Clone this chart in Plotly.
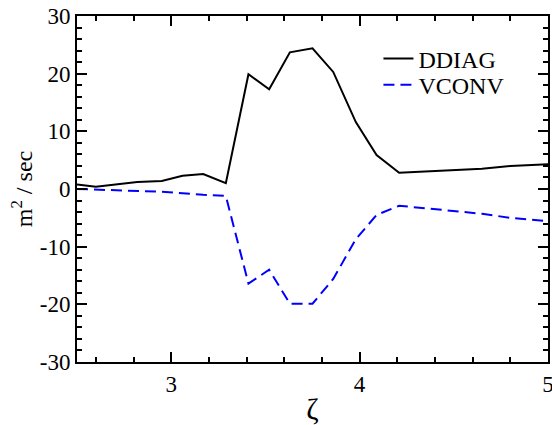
import plotly.graph_objects as go

zeta_ddiag = [2.5, 2.6, 2.82, 2.95, 3.06, 3.17, 3.29, 3.41, 3.52, 3.63, 3.75, 3.86, 3.98, 4.09, 4.21, 4.65, 4.8, 5.0]
ddiag = [0.8, 0.4, 1.2, 1.4, 2.3, 2.6, 1.0, 19.9, 17.3, 23.7, 24.4, 20.3, 11.6, 5.9, 2.8, 3.5, 4.0, 4.3]

zeta_vconv = [2.5, 2.6, 2.97, 3.17, 3.29, 3.41, 3.52, 3.63, 3.75, 3.86, 3.98, 4.09, 4.21, 4.65, 4.8, 5.0]
vconv = [0.0, -0.1, -0.5, -1.0, -1.2, -16.4, -14.0, -19.9, -19.9, -15.6, -8.7, -4.5, -2.9, -4.3, -5.0, -5.6]

x_ticks = [3, 4, 5]
x_labels = ["3", "4", "5"]
y_ticks = [-30, -20, -10, 0, 10, 20, 30]
y_labels = ["-30", "-20", "-10", "0", "10", "20", "30"]

font = "Liberation Serif"

fig = go.Figure()
fig.add_trace(go.Scatter(x=zeta_ddiag, y=ddiag, mode="lines", name="DDIAG",
                         line=dict(color="black", width=2), legend="legend", showlegend=True))
fig.add_trace(go.Scatter(x=zeta_vconv, y=vconv, mode="lines", name="VCONV",
                         line=dict(color="blue", width=2, dash="11px,6px"), legend="legend2", showlegend=True))

def axis_common():
    return dict(showline=True, linecolor="black", linewidth=2, mirror="allticks",
                ticks="inside", ticklen=10, tickwidth=2, tickcolor="black",
                showgrid=False, zeroline=False, automargin=False,
                ticklabeloverflow="allow",
                tickfont=dict(family=font, size=23, color="black"))

fig.update_xaxes(range=[2.5, 5], tickmode="array", tickvals=x_ticks, ticktext=x_labels,
                 minor=dict(tickmode="linear", dtick=0.2, tick0=2.6, ticks="inside",
                            ticklen=5, tickwidth=2, tickcolor="black", showgrid=False),
                 title=dict(text="ζ", font=dict(family=font, size=30, color="black"), standoff=2),
                 **axis_common())
fig.update_yaxes(range=[-30, 30], tickmode="array", tickvals=y_ticks, ticktext=y_labels,
                 minor=dict(tickmode="linear", dtick=2, tick0=0, ticks="inside",
                            ticklen=5, tickwidth=2, tickcolor="black", showgrid=False),
                 title=dict(text="m<sup>2</sup> / sec", font=dict(family=font, size=24, color="black"), standoff=0),
                 **axis_common())

leg = dict(xanchor="left", yanchor="middle", bgcolor="rgba(0,0,0,0)",
           font=dict(family=font, size=24, color="black"), tracegroupgap=0)
fig.update_layout(width=552, height=425, margin=dict(l=77, r=4, t=16, b=63, autoexpand=False),
                  plot_bgcolor="white", paper_bgcolor="white", showlegend=True,
                  legend=dict(x=0.64, y=0.876, **leg),
                  legend2=dict(x=0.64, y=0.80, **leg))

fig.write_html("out.html")
